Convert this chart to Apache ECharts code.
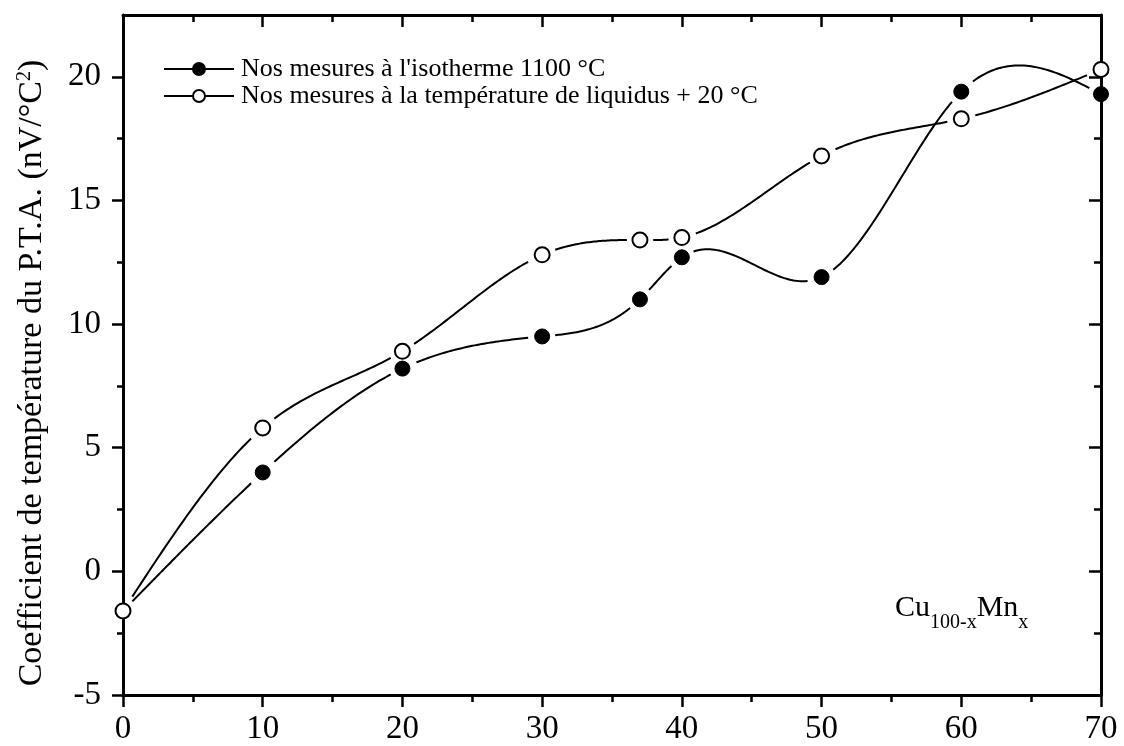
<!DOCTYPE html>
<html>
<head>
<meta charset="utf-8">
<script src="https://cdn.jsdelivr.net/npm/echarts@6/dist/echarts.min.js"></script>
<style>
html,body{margin:0;padding:0;background:#fff;}
#chart{width:1124px;height:746px;}
</style>
</head>
<body>
<div id="chart"></div>
<script>
// ---- data ----
const xValues = [0, 10, 20, 30, 37, 40, 50, 60, 70];
const isothermValues = [-1.6, 4.0, 8.2, 9.5, 11.0, 12.7, 11.9, 19.4, 19.3];
const liquidusValues = [-1.6, 5.8, 8.9, 12.8, 13.4, 13.5, 16.8, 18.3, 20.3];
const xTickLabels = [0, 10, 20, 30, 40, 50, 60, 70];
const yMajorTicks = [-5, 0, 5, 10, 15, 20];
const yMinorTicks = [-2.5, 2.5, 7.5, 12.5, 17.5];
const seriesNames = ["Nos mesures à l'isotherme 1100 °C", "Nos mesures à la température de liquidus + 20 °C"];
const yTitle = ['Coefficient de température du P.T.A. (nV/°C', '2', ')'];
const alloyLabel = ['Cu', '100-x', 'Mn', 'x'];

const FONT = 'Liberation Serif';
const pairs = arr => xValues.map((x, i) => [x, arr[i]]);

// natural cubic spline (used only to draw the connecting curve)
function naturalSpline(xs, ys) {
  const n = xs.length, h = [], a = [], b = [], c = [], d = [];
  for (let i = 0; i < n - 1; i++) h.push(xs[i + 1] - xs[i]);
  const M = new Array(n).fill(0);
  const m = n - 2;
  for (let i = 1; i <= m; i++) {
    a.push(h[i - 1]); b.push(2 * (h[i - 1] + h[i])); c.push(h[i]);
    d.push(6 * ((ys[i + 1] - ys[i]) / h[i] - (ys[i] - ys[i - 1]) / h[i - 1]));
  }
  for (let i = 1; i < m; i++) {
    const w = a[i] / b[i - 1];
    b[i] -= w * c[i - 1]; d[i] -= w * d[i - 1];
  }
  const sol = new Array(m).fill(0);
  for (let i = m - 1; i >= 0; i--) sol[i] = (d[i] - (i < m - 1 ? c[i] * sol[i + 1] : 0)) / b[i];
  for (let i = 0; i < m; i++) M[i + 1] = sol[i];
  return function (seg, x) {
    const x0 = xs[seg], x1 = xs[seg + 1], hh = x1 - x0;
    return M[seg] * Math.pow(x1 - x, 3) / (6 * hh) + M[seg + 1] * Math.pow(x - x0, 3) / (6 * hh)
      + (ys[seg] / hh - M[seg] * hh / 6) * (x1 - x) + (ys[seg + 1] / hh - M[seg + 1] * hh / 6) * (x - x0);
  };
}

function curveSeries(values) {
  const spline = naturalSpline(xValues, values);
  const GAP = 13;
  return {
    type: 'custom', z: 2, silent: true, clip: true,
    data: pairs(values),
    renderItem: function (params, api) {
      const i = params.dataIndex;
      if (i >= xValues.length - 1) return null;
      const p0 = api.coord([xValues[i], values[i]]);
      const p1 = api.coord([xValues[i + 1], values[i + 1]]);
      const pts = [];
      const N = 60;
      for (let k = 0; k <= N; k++) {
        const x = xValues[i] + (xValues[i + 1] - xValues[i]) * k / N;
        const p = api.coord([x, spline(i, x)]);
        if (Math.hypot(p[0] - p0[0], p[1] - p0[1]) > GAP && Math.hypot(p[0] - p1[0], p[1] - p1[1]) > GAP) pts.push(p);
      }
      if (pts.length < 2) return null;
      return {type: 'polyline', shape: {points: pts}, style: {stroke: '#000', lineWidth: 2, fill: null}};
    }
  };
}

const X_MIN = 0, X_MAX = 70, Y_MIN = -5, Y_MAX = 22.5;
const axisLine = {show: true, onZero: false, lineStyle: {color: '#000', width: 3}};

function xAx(pos, inside, labels) {
  return {
    type: 'value', position: pos, min: X_MIN, max: X_MAX, interval: 10,
    axisLine: axisLine,
    axisTick: {show: true, inside: inside, length: 12, lineStyle: {color: '#000', width: 2.5}},
    minorTick: {show: true, splitNumber: 2, length: 7, lineStyle: {color: '#000', width: 2.5}},
    axisLabel: {show: labels, color: '#000', fontFamily: FONT, fontSize: 33, margin: 18,
      customValues: xTickLabels},
    splitLine: {show: false}, minorSplitLine: {show: false}
  };
}
function yAx(pos, inside, labels, tickVals, len, showLine) {
  return {
    type: 'value', position: pos, min: Y_MIN, max: Y_MAX, interval: 5,
    axisLine: showLine ? axisLine : {show: false, onZero: false},
    axisTick: {show: true, inside: inside, length: len, customValues: tickVals,
      lineStyle: {color: '#000', width: 2.5}},
    minorTick: {show: false},
    axisLabel: {show: labels, color: '#000', fontFamily: FONT, fontSize: 33, margin: 22,
      customValues: yMajorTicks},
    splitLine: {show: false}
  };
}

const chart = echarts.init(document.getElementById('chart'), null, {renderer: 'canvas'});
const markerFilled = {color: '#000', borderColor: '#000', borderWidth: 1, opacity: 1};
const markerOpen = {color: '#fff', borderColor: '#000', borderWidth: 2, opacity: 1};

chart.setOption({
  backgroundColor: '#fff',
  animation: false,
  grid: {left: 123, right: 23, top: 15, bottom: 51, containLabel: false},
  xAxis: [xAx('bottom', false, true), xAx('top', true, false)],
  yAxis: [
    yAx('left', false, true, yMajorTicks, 11, true),
    yAx('left', false, false, yMinorTicks, 6, false),
    yAx('right', true, false, yMajorTicks, 12, true),
    yAx('right', true, false, yMinorTicks, 7, false)
  ],
  legend: {
    data: seriesNames, orient: 'vertical', left: 158, top: 51,
    itemWidth: 70, itemHeight: 15, itemGap: 1,
    lineStyle: {color: '#000', width: 2, opacity: 1},
    textStyle: {color: '#000', fontFamily: FONT, fontSize: 26, lineHeight: 26, padding: [0, 0, 0, 2]}
  },
  series: [
    curveSeries(isothermValues),
    curveSeries(liquidusValues),
    {name: seriesNames[0], type: 'line', data: pairs(isothermValues), z: 4,
      symbol: 'circle', symbolSize: 15, itemStyle: markerFilled,
      lineStyle: {color: '#000', width: 2, opacity: 0}},
    {name: seriesNames[1], type: 'line', data: pairs(liquidusValues), z: 4,
      symbol: 'circle', symbolSize: 15, itemStyle: markerOpen,
      lineStyle: {color: '#000', width: 2, opacity: 0}}
  ],
  graphic: [
    {type: 'text', x: 32, y: 373, rotation: Math.PI / 2, z: 10,
      style: {
        text: '{a|' + yTitle[0] + '}{s|' + yTitle[1] + '}{a|' + yTitle[2] + '}',
        align: 'center', verticalAlign: 'middle', fill: '#000',
        rich: {
          a: {fontFamily: FONT, fontSize: 34, lineHeight: 34, padding: [5, 0, 0, 0], verticalAlign: 'bottom', fill: '#000'},
          s: {fontFamily: FONT, fontSize: 20, lineHeight: 20, verticalAlign: 'top', fill: '#000'}
        }
      }},
    {type: 'text', x: 895, y: 593, z: 10,
      style: {
        text: '{a|' + alloyLabel[0] + '}{b|' + alloyLabel[1] + '}{a|' + alloyLabel[2] + '}{b|' + alloyLabel[3] + '}',
        align: 'left', verticalAlign: 'top', fill: '#000',
        rich: {
          a: {fontFamily: FONT, fontSize: 30, lineHeight: 30, verticalAlign: 'top', fill: '#000'},
          b: {fontFamily: FONT, fontSize: 20, lineHeight: 40, verticalAlign: 'bottom', fill: '#000'}
        }
      }}
  ]
});
</script>
</body>
</html>
